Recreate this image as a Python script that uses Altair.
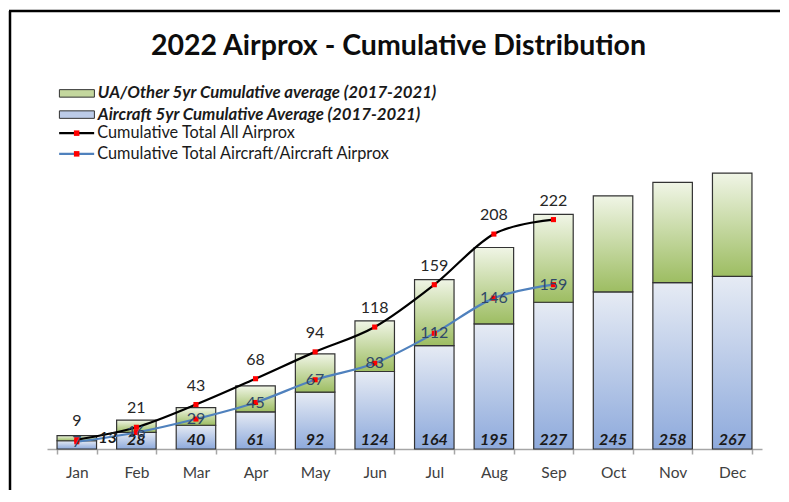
import altair as alt
import pandas as pd

months = ["Jan", "Feb", "Mar", "Apr", "May", "Jun", "Jul", "Aug", "Sep", "Oct", "Nov", "Dec"]
aircraft_avg = [8, 16, 23, 36, 55, 75, 100, 121, 142, 152, 161, 167]
total_avg = [13, 28, 40, 61, 92, 124, 164, 195, 227, 245, 258, 267]
all_airprox = [9, 21, 43, 68, 94, 118, 159, 208, 222]
ac_airprox = [7, 16, 29, 45, 67, 83, 112, 146, 159]

bar_names = ["UA/Other 5yr Cumulative average (2017-2021)",
             "Aircraft 5yr Cumulative Average (2017-2021)"]
line_names = ["Cumulative Total All Airprox",
              "Cumulative Total Aircraft/Aircraft Airprox"]
marker_keys = ["marker_all", "marker_ac"]

W, H = 715, 310
FONT = "Lato"

bars = pd.DataFrame({"month": months, "aircraft": aircraft_avg,
                     "total": total_avg, "zero": [0] * len(months)})
n = len(all_airprox)
lines = pd.DataFrame({
    "month": months[:n] * 2,
    "value": all_airprox + ac_airprox,
    "series": [line_names[0]] * n + [line_names[1]] * n,
    "marker": [marker_keys[0]] * n + [marker_keys[1]] * n,
})
all_df = lines[lines["series"] == line_names[0]]
ac_df = lines[lines["series"] == line_names[1]]
leg_bars = pd.DataFrame({"month": months[:2], "bar_series": bar_names, "zero": [0, 0]})

x_axis = alt.Axis(title=None, labelAngle=0, labelFont=FONT, labelFontSize=15.5,
                  labelColor="#404040", labelPadding=11, domainColor="#a6a6a6",
                  domainWidth=1.5, tickColor="#a6a6a6", tickWidth=1.5, tickSize=5,
                  tickBand="extent", grid=False)
X = alt.X("month:N", sort=months, axis=x_axis,
          scale=alt.Scale(paddingInner=0.337, paddingOuter=0.1685))


def Y(field):
    return alt.Y(field, scale=alt.Scale(domain=[0, 300]), axis=None)


def grad(top, bottom):
    return alt.Gradient(gradient="linear", x1=0, x2=0, y1=0, y2=1,
                        stops=[alt.GradientStop(offset=0, color=top),
                               alt.GradientStop(offset=1, color=bottom)])


blue_bars = alt.Chart(bars).mark_bar(
    fill=grad("#e6ebf4", "#8eaadc"), stroke="#333333", strokeWidth=1.2
).encode(x=X, y=Y("aircraft:Q"))

green_bars = alt.Chart(bars).mark_bar(
    fill=grad("#f0f5e6", "#9dbd62"), stroke="#333333", strokeWidth=1.2
).encode(x=X, y=Y("aircraft:Q"), y2="total:Q")

label_style = dict(font=FONT, fontSize=16, fontStyle="italic", fontWeight="bold",
                   color="#1a1a1a")
bar_labels = alt.Chart(bars).transform_filter("datum.total >= 20").mark_text(
    baseline="bottom", dy=-1, **label_style
).encode(x=X, y=Y("zero:Q"), text="total:Q")

# short bar: Excel pushes its label beside the bar
short_labels = alt.Chart(bars).transform_filter("datum.total < 20").mark_text(
    baseline="middle", dx=31, dy=2, **label_style
).encode(x=X, y=Y("total:Q"), text="total:Q")

rect_path = "M-3.5,-0.75H3.5V0.75H-3.5Z"
line_path = "M-3.5,0H3.5"
sq_path = "M-0.55,-0.55H0.55V0.55H-0.55Z"

LX = 21.5
bar_legend = alt.Chart(leg_bars).mark_square(opacity=0).encode(
    x=X, y=Y("zero:Q"),
    fill=alt.Fill("bar_series:N",
                  scale=alt.Scale(domain=bar_names, range=["#c4d79e", "#bccbe8"]),
                  legend=alt.Legend(orient="none", legendX=LX, legendY=-54, title=None,
                                    symbolType=rect_path, symbolSize=100,
                                    symbolStrokeColor="#333333", symbolStrokeWidth=1,
                                    symbolOpacity=1, labelFont=FONT, labelFontSize=16.8,
                                    labelFontStyle="italic", labelFontWeight="bold",
                                    labelColor="#1a1a1a", labelOffset=12.5,
                                    rowPadding=3.2, padding=0, labelLimit=600))
)

line_layer = alt.Chart(lines).mark_line(
    interpolate="cardinal", tension=0, strokeWidth=2.2
).encode(
    x=X, y=Y("value:Q"),
    stroke=alt.Stroke("series:N",
                      scale=alt.Scale(domain=line_names, range=["#000000", "#4f81bd"]),
                      legend=alt.Legend(orient="none", legendX=LX, legendY=-14, title=None,
                                        symbolType=line_path, symbolSize=100,
                                        symbolStrokeWidth=2.2, labelFont=FONT,
                                        labelFontSize=16.3, labelColor="#1a1a1a",
                                        labelOffset=12.5, rowPadding=3.7, padding=0,
                                        labelLimit=600))
)

marker_legend = alt.Chart(lines).mark_point(filled=True, color="#ff0000", opacity=0).encode(
    x=X, y=Y("value:Q"),
    shape=alt.Shape("marker:N",
                    scale=alt.Scale(domain=marker_keys, range=[sq_path, sq_path]),
                    legend=alt.Legend(orient="none", legendX=LX, legendY=-14, title=None,
                                      symbolSize=100, symbolFillColor="#ff0000",
                                      symbolStrokeColor="#ff0000", symbolStrokeWidth=0,
                                      symbolOpacity=1, labelOpacity=0, labelFont=FONT,
                                      labelFontSize=16.3, labelOffset=12.5, rowPadding=3.7,
                                      padding=0))
)

markers = alt.Chart(lines).mark_square(size=26, color="#ff0000", opacity=1).encode(
    x=X, y=Y("value:Q"))

all_labels = alt.Chart(all_df).mark_text(
    font=FONT, fontSize=16, dy=-19, color="#262626"
).encode(x=X, y=Y("value:Q"), text="value:Q")

ac_labels = alt.Chart(ac_df).mark_text(
    font=FONT, fontSize=16, color="#2f4868"
).encode(x=X, y=Y("value:Q"), text="value:Q")

frame_df = pd.DataFrame({"k": [0]})
left_border = alt.Chart(frame_df).mark_rule(color="black", strokeWidth=2.5).encode(
    x=alt.value(-37), y=alt.value(-128), y2=alt.value(400))
top_border = alt.Chart(frame_df).mark_rule(color="black", strokeWidth=2.5).encode(
    x=alt.value(-38), x2=alt.value(760), y=alt.value(-128))

chart = alt.layer(
    blue_bars, green_bars, bar_legend, line_layer, marker_legend, markers,
    bar_labels, short_labels, all_labels, ac_labels, left_border, top_border
).properties(
    width=W, height=H,
    background="white",
    autosize=alt.AutoSizeParams(type="none"),
    padding={"left": 39, "top": 131, "right": 18, "bottom": 41},
    title=alt.TitleParams("2022 Airprox - Cumulative Distribution", font=FONT,
                          fontSize=28.5, fontWeight="bold", color="#0d0d0d",
                          anchor="middle", frame="group", offset=-51, dx=-6),
).configure_view(strokeWidth=0)

chart.save("out.html", embed_options={"renderer": "svg", "actions": False})
